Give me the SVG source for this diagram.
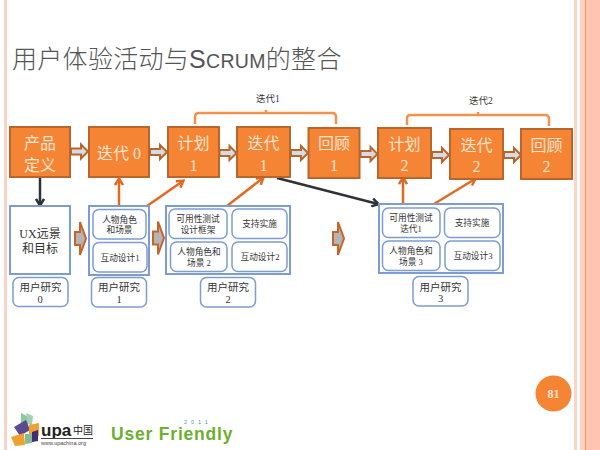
<svg xmlns="http://www.w3.org/2000/svg" width="600" height="450" viewBox="0 0 600 450">
<style>
text{font-family:"Liberation Serif","Noto Sans CJK SC",serif;text-anchor:middle}
.n{fill:#f58535;stroke:#b9662c;stroke-width:2}
.nt{fill:#fde3d0;font-size:16px}
.b{fill:#fff;stroke:#7d9cd2;stroke-width:2}
.r{fill:#fff;stroke:#7d9cd2;stroke-width:1.5}
.t{fill:#333;font-size:8.700px}
.u{fill:#333;font-size:10.500px}
.ba{fill:#d6dce6;stroke:#b9662c;stroke-width:2}
.ga{fill:#b5b5b5;stroke:#c8632a;stroke-width:2}
.o{fill:none;stroke:#e2691f;stroke-width:2.500}
.k{fill:none;stroke:#2f3338;stroke-width:2.500}
.br{fill:none;stroke:#f4914d;stroke-width:2.500}
.s{font-family:"Liberation Sans","Noto Sans CJK SC",sans-serif;text-anchor:start}
</style>
<defs>
<marker id="mo" markerWidth="10" markerHeight="10" refX="7.500" refY="5" orient="auto" markerUnits="userSpaceOnUse"><path d="M1.500 1L8 5L1.500 9" fill="none" stroke="#e2691f" stroke-width="2.500"/></marker>
<marker id="mk" markerWidth="10" markerHeight="10" refX="7.500" refY="5" orient="auto" markerUnits="userSpaceOnUse"><path d="M1.500 1L8 5L1.500 9" fill="none" stroke="#2f3338" stroke-width="2.500"/></marker>
<path id="ar" d="M0-3H10V-7L17 0L10 7V3H0Z"/>
<path id="gr" d="M0-6.500H5V-16.500L11 0L5 16.500V6.500H0Z"/>
</defs>
<rect width="600" height="450" fill="#fff"/>
<g id="frame">
<rect x="4" y="0" width="3" height="450" fill="#fbd3c6"/>
<rect x="574" y="0" width="3" height="450" fill="#fdd3c5"/>
<rect x="580" y="0" width="5" height="450" fill="#fdd3c5"/>
<rect x="585" y="0" width="1.500" height="450" fill="#f59a5d"/>
<rect x="586.500" y="0" width="13.500" height="450" fill="#ffc5b2"/>
</g>
<text id="title" x="12" y="68" style="text-anchor:start;font-family:'Noto Sans CJK SC',sans-serif;font-weight:300" font-size="25" letter-spacing="0.300" fill="#555">用户体验活动与<tspan style="font-family:'Liberation Sans',sans-serif">S<tspan font-size="19.500">CRUM</tspan></tspan>的整合</text>
<g id="connectors">
<use href="#ar" x="71" y="151.500" class="ba"/>
<use href="#ar" x="150" y="152" class="ba"/>
<use href="#ar" x="219.500" y="153" class="ba"/>
<use href="#ar" x="291" y="153" class="ba"/>
<use href="#ar" x="360.500" y="154" class="ba"/>
<use href="#ar" x="432" y="155" class="ba"/>
<use href="#ar" x="504" y="155" class="ba"/>
<use href="#gr" x="75" y="238.500" class="ga"/>
<use href="#gr" x="153" y="238" class="ga"/>
<use href="#gr" x="333" y="238.500" class="ga"/>
<path class="k" d="M40 177V205" marker-end="url(#mk)"/>
<path class="o" d="M119 206V179" marker-end="url(#mo)"/>
<path class="o" d="M147 206L183 181" marker-end="url(#mo)"/>
<path class="o" d="M227 206L263 178" marker-end="url(#mo)"/>
<path class="k" d="M277 178L378 204" marker-end="url(#mk)"/>
<path class="o" d="M403 204V178" marker-end="url(#mo)"/>
<path class="o" d="M434 204L475 179" marker-end="url(#mo)"/>
<path class="br" d="M195 124V117Q195 113 199 113H332Q336 113 336 117V124M266 113V110"/>
<path class="br" d="M407 125V118Q407 115 411 115H545Q549 115 549 119V126M478 115V112"/>
</g>
<text id="label-iter1" x="268" y="102" font-size="9.500" fill="#333">迭代1</text>
<text id="label-iter2" x="481" y="104" font-size="9.500" fill="#333">迭代2</text>
<g id="n-product"><rect class="n" x="10" y="127" width="60" height="50"/><text class="nt" x="40" y="149">产品</text><text class="nt" x="40" y="171">定义</text></g>
<g id="n-iter0"><rect class="n" x="89" y="127" width="60" height="50"/><text class="nt" x="119" y="159">迭代 0</text></g>
<g id="n-plan1"><rect class="n" x="168" y="127" width="51" height="50"/><text class="nt" x="193.500" y="149">计划</text><text class="nt" x="193.500" y="171">1</text></g>
<g id="n-iter1"><rect class="n" x="237" y="127" width="53" height="50"/><text class="nt" x="263.500" y="149">迭代</text><text class="nt" x="263.500" y="171">1</text></g>
<g id="n-review1"><rect class="n" x="308.500" y="128" width="51" height="50"/><text class="nt" x="334" y="149">回顾</text><text class="nt" x="334" y="171">1</text></g>
<g id="n-plan2"><rect class="n" x="378" y="128" width="53" height="50"/><text class="nt" x="404.500" y="150">计划</text><text class="nt" x="404.500" y="171">2</text></g>
<g id="n-iter2"><rect class="n" x="450" y="129" width="53" height="50"/><text class="nt" x="476.500" y="151">迭代</text><text class="nt" x="476.500" y="172">2</text></g>
<g id="n-review2"><rect class="n" x="521" y="129" width="51" height="50"/><text class="nt" x="546.500" y="151">回顾</text><text class="nt" x="546.500" y="172">2</text></g>
<g id="n-ux"><rect class="b" x="10" y="206" width="60" height="68"/><text x="40" y="238" font-size="12" fill="#333">UX远景</text><text x="40" y="253" font-size="12" fill="#333">和目标</text></g>
<g id="n-box1"><rect class="b" x="89" y="206" width="60" height="69"/>
<rect class="r" x="93" y="209.500" width="53" height="29.500" rx="6"/><text class="t" x="119.500" y="223">人物角色</text><text class="t" x="119.500" y="233">和场景</text>
<rect class="r" x="93" y="242.500" width="54" height="29.500" rx="6"/><text class="t" x="120" y="261">互动设计1</text></g>
<g id="n-box2"><rect class="b" x="166" y="206" width="124" height="68"/>
<rect class="r" x="169" y="209" width="58" height="29.500" rx="6"/><text class="t" x="198" y="222">可用性测试</text><text class="t" x="198" y="233">设计框架</text>
<rect class="r" x="232" y="209" width="55" height="29.500" rx="6"/><text class="t" x="259.500" y="227">支持实施</text>
<rect class="r" x="170.500" y="242" width="56.500" height="29.500" rx="6"/><text class="t" x="199" y="255">人物角色和</text><text class="t" x="199" y="266">场景 2</text>
<rect class="r" x="232" y="242" width="55" height="29.500" rx="6"/><text class="t" x="260" y="260">互动设计2</text></g>
<g id="n-box3"><rect class="b" x="379" y="204" width="124" height="69"/>
<rect class="r" x="382.500" y="208" width="57.500" height="29.500" rx="6"/><text class="t" x="411" y="221">可用性测试</text><text class="t" x="411" y="232">迭代1</text>
<rect class="r" x="444.500" y="208" width="55.500" height="29.500" rx="6"/><text class="t" x="472" y="226">支持实施</text>
<rect class="r" x="382.500" y="241" width="57.500" height="29.500" rx="6"/><text class="t" x="411" y="254">人物角色和</text><text class="t" x="411" y="265">场景 3</text>
<rect class="r" x="445" y="241" width="55" height="29.500" rx="6"/><text class="t" x="473" y="259">互动设计3</text></g>
<g id="n-ur0"><rect class="r" x="13" y="277.500" width="55" height="29" rx="6"/><text class="u" x="40.500" y="291">用户研究</text><text class="u" x="40" y="303">0</text></g>
<g id="n-ur1"><rect class="r" x="91.500" y="277.500" width="55" height="29.500" rx="6"/><text class="u" x="119" y="291">用户研究</text><text class="u" x="119" y="303">1</text></g>
<g id="n-ur2"><rect class="r" x="200.500" y="277.500" width="55" height="29.500" rx="6"/><text class="u" x="228" y="291">用户研究</text><text class="u" x="228" y="303">2</text></g>
<g id="n-ur3"><rect class="r" x="413" y="276.500" width="55" height="29.500" rx="6"/><text class="u" x="440.500" y="291">用户研究</text><text class="u" x="440.500" y="302">3</text></g>
<g id="page"><circle cx="553.500" cy="393.500" r="18" fill="#f58535"/><text x="553.500" y="398" font-size="12" font-weight="bold" fill="#fde3d0">81</text></g>
<g id="logo">
<polygon points="21,413 29,417 28,427 21,425" fill="#8fc6a0"/>
<polygon points="26,413 33,416 32,426 28,424" fill="#a5d0b0"/>
<polygon points="14,427 26,420 30,430 20,436" fill="#5a4a94"/>
<polygon points="29,425 39,423 39,436 29,436" fill="#f0a030"/>
<polygon points="11,437 24,433 25,445 15,446" fill="#f0a030"/>
<polygon points="25,434 32,434 32,443 25,444" fill="#86bb94"/>
<polygon points="32,432 38,430 38,441 32,442" fill="#3d2f70"/>
<text class="s" x="41" y="436" font-size="17" font-weight="bold" fill="#222">upa</text>
<text class="s" x="73" y="434" font-size="10" fill="#222">中国</text>
<rect x="41" y="438" width="52" height="1" fill="#444"/>
<text class="s" x="41" y="445" font-size="5.500" fill="#444">www.upachina.org</text>
</g>
<g id="brand">
<text class="s" x="111" y="440" font-size="17.500" font-weight="bold" letter-spacing="0.800" fill="#6cb030">User Friendly</text>
<text class="s" x="184" y="424" font-size="5.500" letter-spacing="4" fill="#4a9ab0">2011</text>
</g>
</svg>
